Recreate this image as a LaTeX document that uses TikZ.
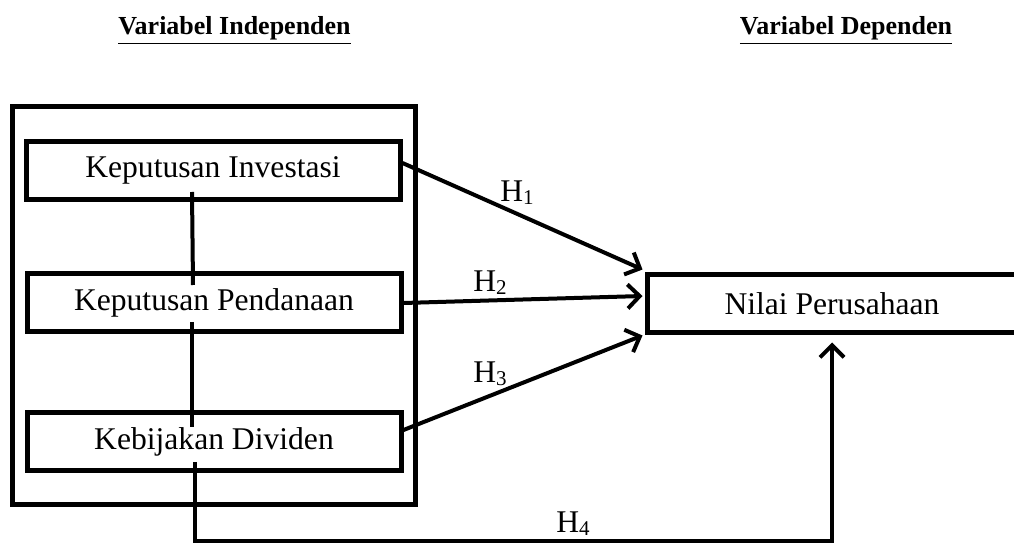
\documentclass[tikz,border=0pt]{standalone}
\usepackage{fontspec}
\setmainfont{Liberation Serif}
\usetikzlibrary{arrows.meta}
\newcommand{\hyp}[1]{H\raisebox{-0.2ex}{\fontsize{10.5}{12}\selectfont #1}}

\begin{document}
\begin{tikzpicture}[
    x=0.5pt, y=-0.5pt,
    var/.style={draw, line width=2.5pt, minimum width=187pt, minimum height=29pt, inner sep=0pt, font=\fontsize{15.8}{19}\selectfont},
    link/.style={line width=2pt},
    arr/.style={line width=2pt, -{Straight Barb[length=6pt, width=12pt]}},
    hlabel/.style={anchor=base, font=\fontsize{15.8}{19}\selectfont},
    title/.style={anchor=base, font=\fontsize{13}{16}\selectfont\bfseries},
  ]
  \path[use as bounding box] (0,0) rectangle (1014,545);
  \node[title] (tind) at (234.5,35) {\underline{Variabel Independen}};
  \node[title] (tdep) at (846,35) {\underline{Variabel Dependen}};
  % group of independent variables
  \node[draw, line width=2.5pt, minimum width=201.5pt, minimum height=199pt] (grp) at (213.5,306) {};
  \node[var] (inv) at (213,170.5) {Keputusan Investasi};
  \node[var] (pen) at (214,303) {Keputusan Pendanaan};
  \node[var] (div) at (214,442) {Kebijakan Dividen};
  \node[var, minimum width=185pt] (nilai) at (832,304) {Nilai Perusahaan};
  \draw[link] ([shift={(-21,21.5)}]inv.center) -- ([shift={(-21,-18)}]pen.center);
  \draw[link] ([shift={(-22,19)}]pen.center) -- ([shift={(-22,-15)}]div.center);
  % hypotheses
  \draw[arr] ([shift={(0,-7.5)}]inv.east) -- ([shift={(-2,-3)}]nilai.north west);
  \draw[arr] (pen.east) -- ([shift={(-2,-8)}]nilai.west);
  \draw[arr] ([shift={(0,-12)}]div.east) -- ([shift={(-2,0)}]nilai.south west);
  \draw[arr] ([shift={(-19,20)}]div.center) -- ++(0,79) -| ([shift={(0,7)}]nilai.south);
  \node[hlabel] (h1) at (517,202) {\hyp{1}};
  \node[hlabel] (h2) at (490,292) {\hyp{2}};
  \node[hlabel] (h3) at (490,383) {\hyp{3}};
  \node[hlabel] (h4) at (573,533) {\hyp{4}};
\end{tikzpicture}
\end{document}
